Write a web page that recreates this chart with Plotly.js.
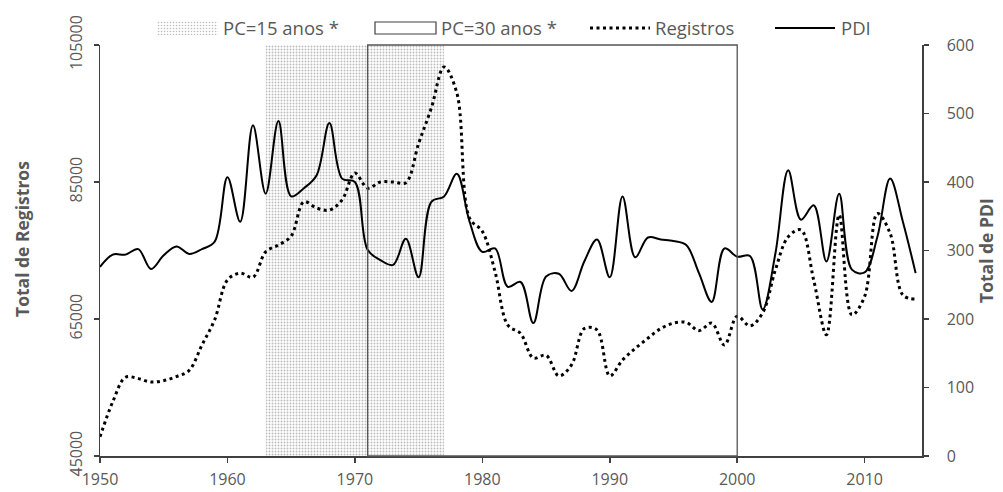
<!DOCTYPE html>
<html>
<head>
<meta charset="utf-8">
<script src="https://cdn.plot.ly/plotly-3.0.1.min.js"></script>
<style>
  html, body { margin: 0; padding: 0; background: #ffffff; }
  #chart { width: 1003px; height: 492px; }
</style>
</head>
<body>
<div id="chart"></div>
<script>
// Annual series, 1950-2014
const years = [
  1950, 1951, 1952, 1953, 1954, 1955, 1956, 1957, 1958, 1959,
  1960, 1961, 1962, 1963, 1964, 1965, 1966, 1967, 1968, 1969,
  1970, 1971, 1972, 1973, 1974, 1975, 1976, 1977, 1978, 1979,
  1980, 1981, 1982, 1983, 1984, 1985, 1986, 1987, 1988, 1989,
  1990, 1991, 1992, 1993, 1994, 1995, 1996, 1997, 1998, 1999,
  2000, 2001, 2002, 2003, 2004, 2005, 2006, 2007, 2008, 2009,
  2010, 2011, 2012, 2013, 2014
];

// Total de Registros (left axis)
const registros = [
  47800, 52900, 56500, 56300, 55800, 56000, 56600, 57500, 61200, 64900,
  70700, 71700, 71100, 74800, 75800, 77100, 82100, 81200, 80900, 82400,
  86300, 84100, 85000, 85000, 84900, 90600, 95800, 101800, 98000, 79700,
  77800, 71900, 64100, 62900, 59300, 59700, 56700, 58300, 63600, 63400,
  56700, 59000, 60700, 62200, 63600, 64400, 64500, 63300, 64400, 61200,
  65400, 64000, 65900, 72200, 77000, 78000, 70700, 62700, 80200, 65600,
  68300, 80400, 77500, 68500, 67900
];

// Total de PDI (right axis)
const pdi = [
  276, 294, 294, 302, 273, 293, 306, 295, 302, 313,
  407, 342, 483, 383, 489, 379, 391, 410, 486, 405,
  400, 301, 286, 279, 317, 261, 371, 379, 412, 342,
  298, 303, 247, 254, 194, 262, 266, 241, 284, 316,
  261, 379, 290, 319, 316, 314, 308, 267, 225, 303,
  291, 292, 214, 296, 417, 345, 366, 284, 383, 272,
  268, 320, 405, 342, 267
];

// Periods highlighted on the chart
const pc15 = [1963, 1977];
const pc30 = [1971, 2000];

// Axis ranges and ticks
const xRange = [1950, 2014.5];
const xTicks = [1950, 1960, 1970, 1980, 1990, 2000, 2010];
const leftRange = [45000, 105000];
const leftTicks = [45000, 65000, 85000, 105000];
const rightRange = [0, 600];
const rightTicks = [0, 100, 200, 300, 400, 500, 600];

// Text
const legendLabels = ['PC=15 anos *', 'PC=30 anos *', 'Registros', 'PDI'];
const leftTitle = 'Total de Registros';
const rightTitle = 'Total de PDI';

// Page geometry
const W = 1003, H = 492;
const M = { l: 100, r: 81, t: 45, b: 36 };
const plotW = W - M.l - M.r, plotH = H - M.t - M.b;
const px = v => (v - M.l) / plotW;          // pixel x -> paper x
const py = v => (H - M.b - v) / plotH;      // pixel y -> paper y

const FONT = 'Open Sans, Noto Sans, sans-serif';
const GREY_TEXT = '#595959';
const AXIS = '#404040';
const STIPPLE = '#bcbcbc';

const traces = [
  {
    // stippled band for the 15-year period
    x: [pc15[0], pc15[1], pc15[1], pc15[0], pc15[0]],
    y: [leftRange[0], leftRange[0], leftRange[1], leftRange[1], leftRange[0]],
    type: 'scatter', mode: 'none', fill: 'toself',
    fillcolor: 'rgba(0,0,0,0)',
    fillpattern: { shape: '.', fgcolor: STIPPLE, bgcolor: '#ffffff', size: 3, solidity: 0.3 },
    hoverinfo: 'skip', name: legendLabels[0]
  },
  {
    x: years, y: registros, type: 'scatter', mode: 'lines', name: legendLabels[2],
    line: { color: '#000000', width: 3, dash: '3px,3.5px', shape: 'spline', smoothing: 1 },
    yaxis: 'y'
  },
  {
    x: years, y: pdi, type: 'scatter', mode: 'lines', name: legendLabels[3],
    line: { color: '#000000', width: 2, shape: 'spline', smoothing: 1 },
    yaxis: 'y2'
  }
];

// Hand-drawn legend row above the plot
const legY = 28;
const stippleSvg =
  '<svg xmlns="http://www.w3.org/2000/svg" width="61" height="14">' +
  '<defs><pattern id="p" width="3" height="3" patternUnits="userSpaceOnUse">' +
  '<circle cx="1.5" cy="1.5" r="0.8" fill="' + STIPPLE + '"/></pattern></defs>' +
  '<rect width="61" height="14" fill="url(#p)"/></svg>';

const shapes = [
  {
    type: 'rect', xref: 'x', yref: 'paper',
    x0: pc30[0], x1: pc30[1], y0: 0, y1: 1,
    line: { color: '#555555', width: 1.3 }, fillcolor: 'rgba(0,0,0,0)', layer: 'above'
  },
  // legend swatch: PC=30 box
  {
    type: 'rect', xref: 'paper', yref: 'paper',
    x0: px(375), x1: px(436), y0: py(legY + 6), y1: py(legY - 6),
    line: { color: '#404040', width: 1.2 }, fillcolor: '#ffffff'
  },
  // legend swatch: Registros
  {
    type: 'line', xref: 'paper', yref: 'paper',
    x0: px(590), x1: px(650), y0: py(legY), y1: py(legY),
    line: { color: '#000000', width: 3, dash: '3px,3.5px' }
  },
  // legend swatch: PDI
  {
    type: 'line', xref: 'paper', yref: 'paper',
    x0: px(775), x1: px(835), y0: py(legY), y1: py(legY),
    line: { color: '#000000', width: 2 }
  }
];

const images = [{
  source: 'data:image/svg+xml;charset=utf-8,' + encodeURIComponent(stippleSvg),
  xref: 'paper', yref: 'paper',
  x: px(157), y: py(legY - 7), sizex: 61 / plotW, sizey: 14 / plotH,
  xanchor: 'left', yanchor: 'top', sizing: 'stretch', layer: 'above'
}];

const legendText = (txt, xLeft) => ({
  text: txt, xref: 'paper', yref: 'paper', x: px(xLeft), y: py(legY),
  xanchor: 'left', yanchor: 'middle', showarrow: false,
  font: { family: FONT, size: 18.5, color: GREY_TEXT }
});

const annotations = [
  legendText(legendLabels[0], 221),
  legendText(legendLabels[1], 439),
  legendText(legendLabels[2], 653),
  legendText(legendLabels[3], 839),
  {
    text: '<b>' + leftTitle + '</b>', xref: 'paper', yref: 'paper',
    x: px(22), y: py(239), textangle: -90, showarrow: false,
    xanchor: 'center', yanchor: 'middle',
    font: { family: FONT, size: 17.5, color: GREY_TEXT }
  },
  {
    text: '<b>' + rightTitle + '</b>', xref: 'paper', yref: 'paper',
    x: px(986), y: py(250), textangle: -90, showarrow: false,
    xanchor: 'center', yanchor: 'middle',
    font: { family: FONT, size: 17.5, color: GREY_TEXT }
  }
];

const axisCommon = {
  showgrid: false, zeroline: false, showline: true,
  linecolor: AXIS, linewidth: 1.5,
  ticks: 'outside', ticklen: 5, tickwidth: 1.5, tickcolor: AXIS,
  tickfont: { family: FONT, size: 16, color: GREY_TEXT },
  fixedrange: true
};

const layout = {
  width: W, height: H,
  margin: M,
  paper_bgcolor: '#ffffff', plot_bgcolor: 'rgba(0,0,0,0)',
  showlegend: false,
  font: { family: FONT, color: GREY_TEXT },
  xaxis: Object.assign({}, axisCommon, {
    range: xRange, tickmode: 'array', tickvals: xTicks, ticktext: xTicks.map(String),
    ticklabelstandoff: 3
  }),
  yaxis: Object.assign({}, axisCommon, {
    range: leftRange, tickmode: 'array', tickvals: leftTicks, ticktext: leftTicks.map(String),
    tickangle: -90, ticklabelstandoff: 5
  }),
  yaxis2: Object.assign({}, axisCommon, {
    range: rightRange, tickmode: 'array', tickvals: rightTicks, ticktext: rightTicks.map(String),
    overlaying: 'y', side: 'right', ticklabelstandoff: 15
  }),
  shapes: shapes,
  images: images,
  annotations: annotations
};

Plotly.newPlot('chart', traces, layout, { staticPlot: true, displayModeBar: false });
</script>
</body>
</html>
